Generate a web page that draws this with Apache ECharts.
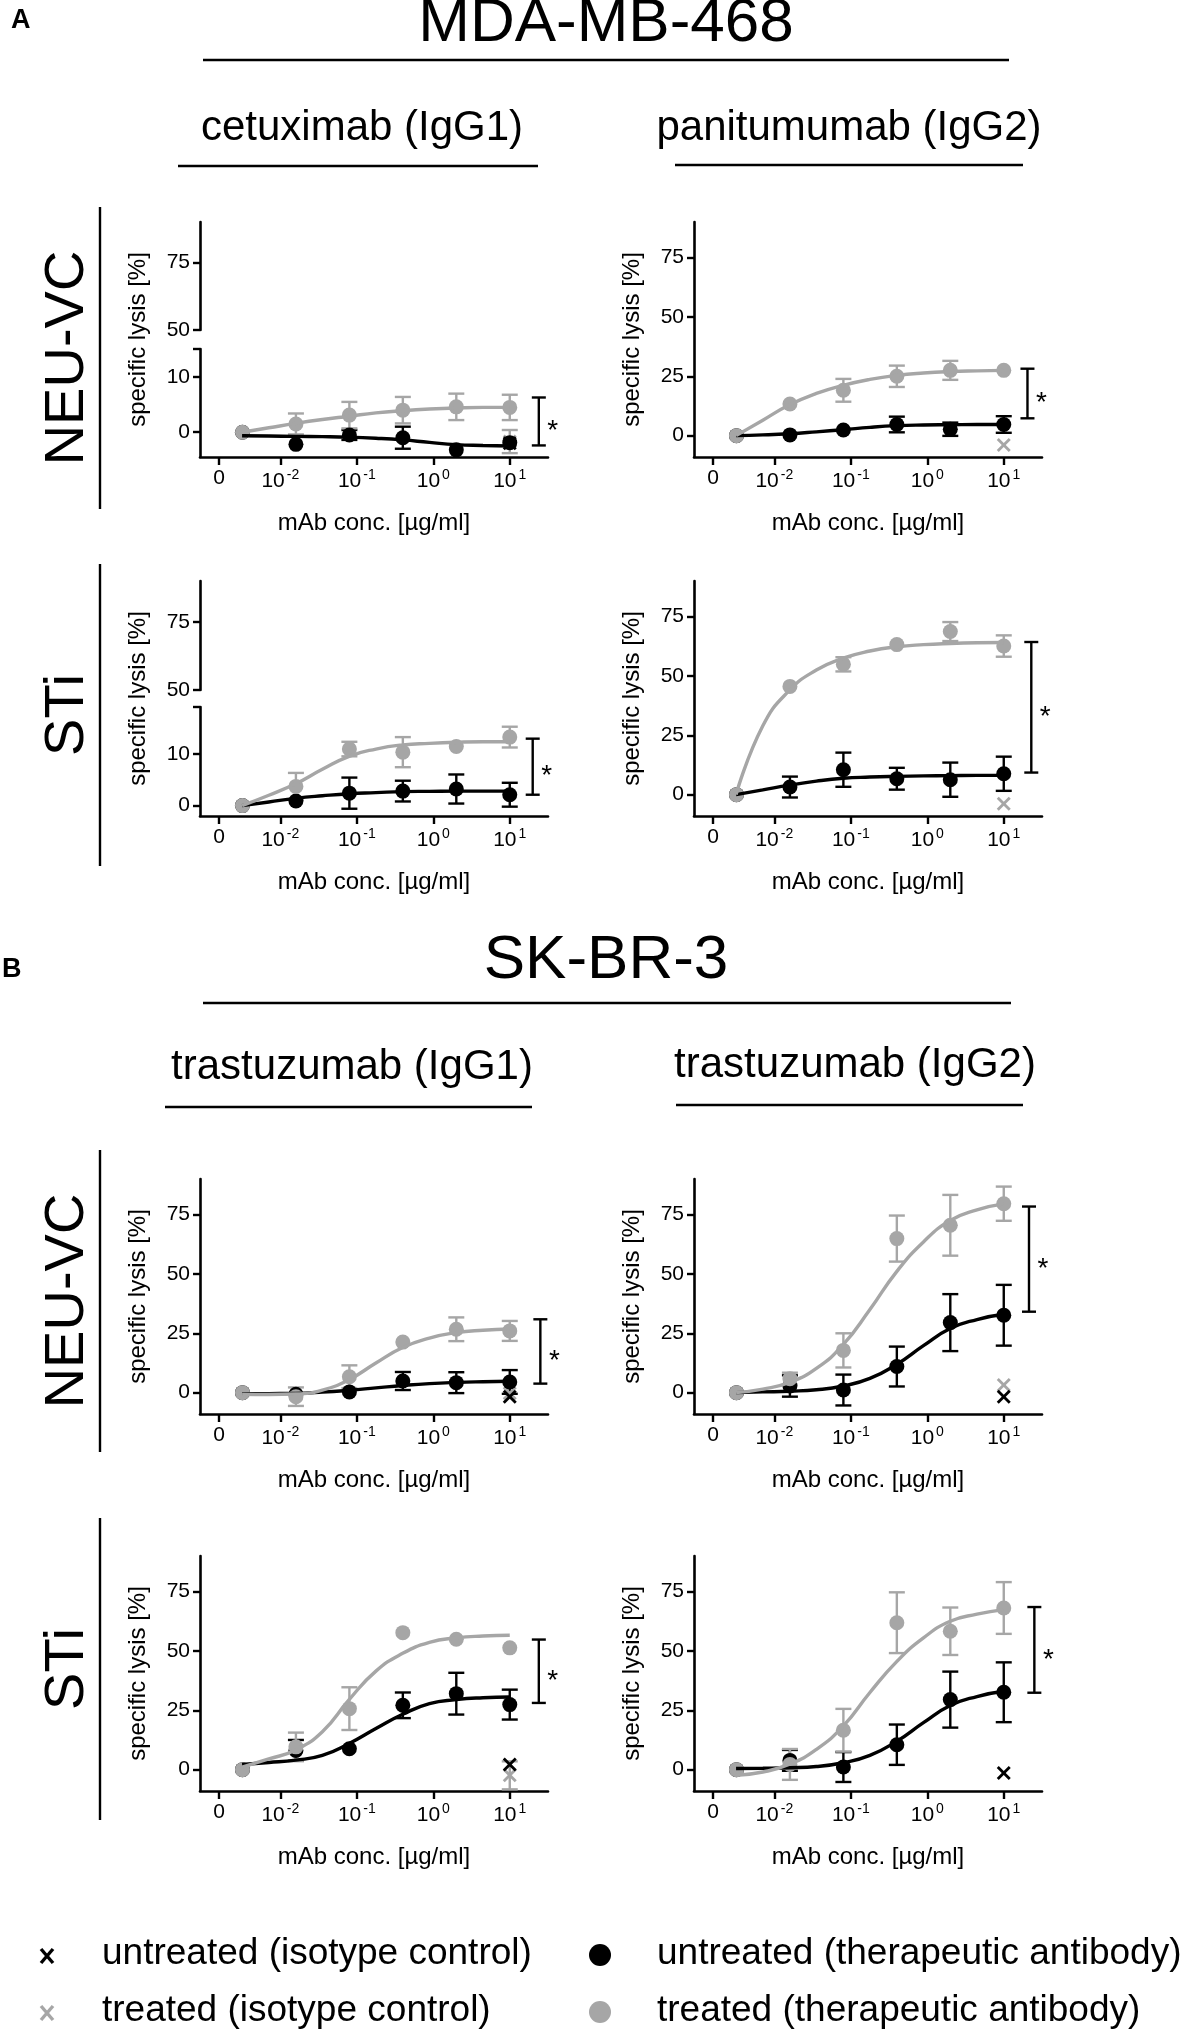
<!DOCTYPE html>
<html>
<head>
<meta charset="utf-8">
<script src="https://cdn.jsdelivr.net/npm/echarts@6/dist/echarts.min.js"></script>
<style>
html,body{margin:0;padding:0;background:#fff}
#chart{width:1183px;height:2029px}
</style>
</head>
<body>
<div id="chart"></div>
<script>
// concentrations [µg/ml]; the first one is the "0" control, drawn left of 10^-2
var CONC = [0.0032, 0.016, 0.08, 0.4, 2, 10];
var FIT_X = [-2.5, -2.15, -1.8, -1.45, -1.1, -0.75, -0.4, -0.05, 0.3, 0.65, 1.0];
var X_TICKS = [-2.8, -2, -1, 0, 1];
var Y_TICKS = [0, 25, 50, 75];
var Y_TICKS_UP = [50, 75];
var Y_TICKS_LOW = [0, 10];

// A: cetuximab (IgG1), NEU-VC
var cetNeuGray = [0, 1.5, 3.1, 4.0, 4.6, 4.5];
var cetNeuGraySd = [0, 1.9, 2.4, 2.4, 2.4, 2.3];
var cetNeuBlack = [0, -2.2, -0.5, -1.0, -3.2, -1.9];
var cetNeuBlackSd = [0, 0, 0.9, 2.0, 0, 0];
var cetNeuGrayFit = [0, 0.8, 1.6, 2.3, 2.9, 3.5, 3.9, 4.2, 4.4, 4.5, 4.5];
var cetNeuBlackFit = [-0.65, -0.7, -0.75, -0.8, -0.9, -1.1, -1.4, -1.85, -2.25, -2.4, -2.5];
var cetNeuIso = [-2.0, -1.7];      // [untreated, treated] isotype at 10 µg/ml
var cetNeuIsoSd = [0, 2.1];
var cetNeuSig = [-2.4, 6.3];

// A: panitumumab (IgG2), NEU-VC
var panNeuGray = [0, 13.3, 19.1, 25.0, 27.5, 27.5];
var panNeuGraySd = [0, 0, 4.8, 4.5, 4.0, 0];
var panNeuBlack = [0, 0.3, 2.4, 4.7, 2.7, 4.7];
var panNeuBlackSd = [0, 0, 0, 3.3, 2.8, 3.5];
var panNeuGrayFit = [0, 6.5, 13, 17.8, 21.2, 23.7, 25.4, 26.4, 27, 27.3, 27.5];
var panNeuBlackFit = [0, 0.3, 0.8, 1.6, 2.5, 3.5, 4.2, 4.5, 4.6, 4.7, 4.7];
var panNeuIso = [null, -3.9];
var panNeuIsoSd = [0, 0];
var panNeuSig = [7.3, 28.2];

// A: cetuximab (IgG1), STi
var cetStiGray = [0, 3.7, 10.9, 10.3, 11.4, 13.2];
var cetStiGraySd = [0, 2.6, 1.4, 2.9, 0, 2.0];
var cetStiBlack = [0, 0.9, 2.4, 2.8, 3.2, 2.1];
var cetStiBlackSd = [0, 0, 3.0, 2.0, 2.8, 2.3];
var cetStiGrayFit = [0, 2, 4.2, 7, 9.5, 10.9, 11.7, 12, 12.2, 12.3, 12.3];
var cetStiBlackFit = [0, 0.7, 1.4, 1.9, 2.3, 2.5, 2.7, 2.75, 2.8, 2.8, 2.8];
var cetStiIso = [null, null];
var cetStiIsoSd = [0, 0];
var cetStiSig = [2.1, 12.9];

// A: panitumumab (IgG2), STi
var panStiGray = [0, 45.6, 54.9, 63.2, 68.7, 62.6];
var panStiGraySd = [0, 0, 3, 0, 4, 4.5];
var panStiBlack = [0, 3.2, 10.5, 6.7, 6.3, 8.8];
var panStiBlackSd = [0, 4.4, 7.2, 4.6, 7.2, 7.2];
var panStiGrayFit = [0, 29, 44, 52.5, 57.5, 60.5, 62.3, 63.2, 63.7, 64, 64.1];
var panStiBlackFit = [0, 2, 4, 5.7, 6.9, 7.4, 7.7, 7.9, 8, 8.1, 8.1];
var panStiIso = [null, -3.8];
var panStiIsoSd = [0, 0];
var panStiSig = [9.3, 64.3];

// B: trastuzumab (IgG1), NEU-VC
var tg1NeuGray = [0, -1.7, 6.7, 21.3, 26.7, 26.0];
var tg1NeuGraySd = [0, 3.9, 4.8, 0, 5.0, 4.2];
var tg1NeuBlack = [0, -0.7, 0.3, 4.9, 4.2, 4.5];
var tg1NeuBlackSd = [0, 0, 0, 3.8, 4.4, 5.0];
var tg1NeuGrayFit = [-0.7, -0.8, -0.6, 1.1, 5.5, 12.5, 19, 23, 25.3, 26.3, 26.8];
var tg1NeuBlackFit = [-0.5, -0.4, -0.3, 0.2, 1.0, 2.0, 3.0, 3.8, 4.3, 4.6, 4.8];
var tg1NeuIso = [-1.7, -0.3];
var tg1NeuIsoSd = [0, 0];
var tg1NeuSig = [3.8, 30.9];

// B: trastuzumab (IgG2), NEU-VC
var tg2NeuGray = [0, 5.9, 17.8, 64.9, 70.5, 79.6];
var tg2NeuGraySd = [0, 2.5, 7.2, 9.7, 12.8, 7.2];
var tg2NeuBlack = [0, 2.8, 1.1, 11.0, 29.5, 32.6];
var tg2NeuBlackSd = [0, 4.5, 6.5, 8.4, 12.0, 12.8];
var tg2NeuGrayFit = [0, 1.5, 4.3, 10.2, 20.2, 35, 51, 63.5, 72.5, 77, 79.5];
var tg2NeuBlackFit = [0, 0.3, 0.6, 1.2, 2.8, 6, 11.9, 19.8, 27, 30.8, 33];
var tg2NeuIso = [-1.7, 3.2];
var tg2NeuIsoSd = [0, 0];
var tg2NeuSig = [34.1, 78.4];

// B: trastuzumab (IgG1), STi
var tg1StiGray = [0, 9.6, 25.7, 57.7, 54.9, 51.3];
var tg1StiGraySd = [0, 6, 9, 0, 0, 0];
var tg1StiBlack = [0, 8.1, 8.8, 27.1, 32.0, 27.4];
var tg1StiBlackSd = [0, 4.4, 0, 5.4, 8.8, 6.3];
var tg1StiGrayFit = [1.1, 4.5, 8.3, 16, 29.5, 41.5, 49, 53.6, 55.5, 56.3, 56.6];
var tg1StiBlackFit = [2.2, 3, 4, 6, 11, 17.3, 23.3, 27.8, 29.5, 30.3, 30.6];
var tg1StiIso = [2.2, -2.4];
var tg1StiIsoSd = [0, 5.9];
var tg1StiSig = [28.1, 54.8];

// B: trastuzumab (IgG2), STi
var tg2StiGray = [0, 2.2, 16.6, 61.9, 58.3, 68.1];
var tg2StiGraySd = [0, 6.5, 9, 12.8, 10, 10.9];
var tg2StiBlack = [0, 3.9, 1.1, 10.5, 29.5, 32.6];
var tg2StiBlackSd = [0, 4.4, 6.3, 8.5, 11.8, 12.6];
var tg2StiGrayFit = [-2.4, -1.0, 2.3, 8.5, 18.3, 32.5, 45.5, 55.5, 62.5, 65.5, 67.4];
var tg2StiBlackFit = [0.5, 0.6, 0.8, 1.3, 2.9, 6, 11.9, 19.8, 27, 30.8, 33];
var tg2StiIso = [-1.4, null];
var tg2StiIsoSd = [0, 0];
var tg2StiSig = [32.4, 68.5];

var GRAY = '#a6a6a6';
var FONT = '"Liberation Sans", Arial, sans-serif';
var X_MIN = -3.05, X_MAX = 1.5;
var COL_LEFT = [200, 694], PLOT_W = 348, PLOT_H = 235;
var ROW_TOP = [222, 581, 1179, 1556];

var panels = [
    {col:0, row:0, g:cetNeuGray, gs:cetNeuGraySd, b:cetNeuBlack, bs:cetNeuBlackSd, gf:cetNeuGrayFit, bf:cetNeuBlackFit,
     iso:cetNeuIso, isoSd:cetNeuIsoSd, sig:cetNeuSig, sigX:1.38, brk:{upBot:330, loTop:349, loMin:-4.5, loMax:15.1}},
    {col:1, row:0, g:panNeuGray, gs:panNeuGraySd, b:panNeuBlack, bs:panNeuBlackSd, gf:panNeuGrayFit, bf:panNeuBlackFit,
     iso:panNeuIso, isoSd:panNeuIsoSd, sig:panNeuSig, sigX:1.31},
    {col:0, row:1, g:cetStiGray, gs:cetStiGraySd, b:cetStiBlack, bs:cetStiBlackSd, gf:cetStiGrayFit, bf:cetStiBlackFit,
     iso:cetStiIso, isoSd:cetStiIsoSd, sig:cetStiSig, sigX:1.30, brk:{upBot:690, loTop:707, loMin:-2, loMax:19}},
    {col:1, row:1, g:panStiGray, gs:panStiGraySd, b:panStiBlack, bs:panStiBlackSd, gf:panStiGrayFit, bf:panStiBlackFit,
     iso:panStiIso, isoSd:panStiIsoSd, sig:panStiSig, sigX:1.36},
    {col:0, row:2, g:tg1NeuGray, gs:tg1NeuGraySd, b:tg1NeuBlack, bs:tg1NeuBlackSd, gf:tg1NeuGrayFit, bf:tg1NeuBlackFit,
     iso:tg1NeuIso, isoSd:tg1NeuIsoSd, sig:tg1NeuSig, sigX:1.40},
    {col:1, row:2, g:tg2NeuGray, gs:tg2NeuGraySd, b:tg2NeuBlack, bs:tg2NeuBlackSd, gf:tg2NeuGrayFit, bf:tg2NeuBlackFit,
     iso:tg2NeuIso, isoSd:tg2NeuIsoSd, sig:tg2NeuSig, sigX:1.33},
    {col:0, row:3, g:tg1StiGray, gs:tg1StiGraySd, b:tg1StiBlack, bs:tg1StiBlackSd, gf:tg1StiGrayFit, bf:tg1StiBlackFit,
     iso:tg1StiIso, isoSd:tg1StiIsoSd, sig:tg1StiSig, sigX:1.38},
    {col:1, row:3, g:tg2StiGray, gs:tg2StiGraySd, b:tg2StiBlack, bs:tg2StiBlackSd, gf:tg2StiGrayFit, bf:tg2StiBlackFit,
     iso:tg2StiIso, isoSd:tg2StiIsoSd, sig:tg2StiSig, sigX:1.40}
];

function xLabel(v) {
    if (v < -2.5) return '{b|0}';
    return '{b|10}{s|' + Math.round(v) + '}';
}

function xAx(gi, show) {
    return {
        gridIndex: gi, type: 'value', min: X_MIN, max: X_MAX, show: show,
        axisLine: {show: true, onZero: false, lineStyle: {color: '#000', width: 2.6}},
        axisTick: {show: true, customValues: X_TICKS, length: 8, lineStyle: {color: '#000', width: 2.4}},
        axisLabel: {
            customValues: X_TICKS, margin: 11, color: '#000', fontSize: 21, fontFamily: FONT,
            formatter: xLabel,
            rich: {
                b: {fontSize: 21, fontFamily: FONT, color: '#000'},
                s: {fontSize: 14, fontFamily: FONT, color: '#000', padding: [0, 0, 12, 2]}
            }
        },
        splitLine: {show: false}
    };
}

function yAx(gi, min, max, ticks) {
    return {
        gridIndex: gi, type: 'value', min: min, max: max,
        axisLine: {show: true, onZero: false, lineStyle: {color: '#000', width: 2.6}},
        axisTick: {show: true, customValues: ticks, length: 7, lineStyle: {color: '#000', width: 2.4}},
        axisLabel: {customValues: ticks, margin: 10, fontSize: 21, color: '#000', fontFamily: FONT},
        splitLine: {show: false}
    };
}

function errBars(color) {
    return function (params, api) {
        var sd = api.value(2);
        if (!sd) return null;
        var x = api.value(0), m = api.value(1);
        var hi = api.coord([x, m + sd]), lo = api.coord([x, m - sd]);
        var w = 8, st = {stroke: color, lineWidth: 2.4};
        return {type: 'group', children: [
            {type: 'line', shape: {x1: hi[0], y1: hi[1], x2: lo[0], y2: lo[1]}, style: st},
            {type: 'line', shape: {x1: hi[0] - w, y1: hi[1], x2: hi[0] + w, y2: hi[1]}, style: st},
            {type: 'line', shape: {x1: lo[0] - w, y1: lo[1], x2: lo[0] + w, y2: lo[1]}, style: st}
        ]};
    };
}

function isoMark(params, api) {
    var col = api.value(3) ? GRAY : '#000';
    var x = api.value(0), m = api.value(1), sd = api.value(2);
    var c = api.coord([x, m]);
    var r = 6, st = {stroke: col, lineWidth: 2.8};
    var ch = [
        {type: 'line', shape: {x1: c[0] - r, y1: c[1] - r, x2: c[0] + r, y2: c[1] + r}, style: st},
        {type: 'line', shape: {x1: c[0] - r, y1: c[1] + r, x2: c[0] + r, y2: c[1] - r}, style: st}
    ];
    if (sd) {
        var hi = api.coord([x, m + sd]), lo = api.coord([x, m - sd]);
        var est = {stroke: col, lineWidth: 2.4};
        ch.push({type: 'line', shape: {x1: hi[0], y1: hi[1], x2: lo[0], y2: lo[1]}, style: est});
        ch.push({type: 'line', shape: {x1: hi[0] - 8, y1: hi[1], x2: hi[0] + 8, y2: hi[1]}, style: est});
        ch.push({type: 'line', shape: {x1: lo[0] - 8, y1: lo[1], x2: lo[0] + 8, y2: lo[1]}, style: est});
    }
    return {type: 'group', children: ch};
}

function bracket(params, api) {
    var x = api.value(0);
    var lo = api.coord([x, api.value(1)]), hi = api.coord([x, api.value(2)]);
    var w = 7, st = {stroke: '#000', lineWidth: 2.4};
    return {type: 'group', children: [
        {type: 'line', shape: {x1: hi[0], y1: hi[1], x2: lo[0], y2: lo[1]}, style: st},
        {type: 'line', shape: {x1: hi[0] - w, y1: hi[1], x2: hi[0] + w, y2: hi[1]}, style: st},
        {type: 'line', shape: {x1: lo[0] - w, y1: lo[1], x2: lo[0] + w, y2: lo[1]}, style: st},
        {type: 'text', x: hi[0] + 14, y: (hi[1] + lo[1]) / 2 + 10,
         style: {text: '*', fontSize: 28, fontFamily: FONT, fill: '#000', align: 'center', verticalAlign: 'middle'}}
    ]};
}

function pts(vals, sd) {
    return CONC.map(function (c, i) {
        return sd ? [Math.log10(c), vals[i], sd[i]] : [Math.log10(c), vals[i]];
    });
}
function fitPts(vals) {
    return FIT_X.map(function (x, i) { return [x, vals[i]]; });
}

var grid = [], xAxis = [], yAxis = [], series = [], graphic = [];

panels.forEach(function (p) {
    var left = COL_LEFT[p.col], top = ROW_TOP[p.row], bottom = top + PLOT_H;
    if (p.brk) {
        grid.push({left: left, top: top, width: PLOT_W, height: p.brk.upBot - top});
        xAxis.push(xAx(grid.length - 1, false));
        yAxis.push(yAx(grid.length - 1, 50, 90, Y_TICKS_UP));
        grid.push({left: left, top: p.brk.loTop, width: PLOT_W, height: bottom - p.brk.loTop});
        xAxis.push(xAx(grid.length - 1, true));
        yAxis.push(yAx(grid.length - 1, p.brk.loMin, p.brk.loMax, Y_TICKS_LOW));
        // small mark where the lower axis segment starts
        graphic.push({type: 'line', shape: {x1: left - 7, y1: p.brk.loTop, x2: left, y2: p.brk.loTop},
            style: {stroke: '#000', lineWidth: 2.4}});
    } else {
        grid.push({left: left, top: top, width: PLOT_W, height: PLOT_H});
        xAxis.push(xAx(grid.length - 1, true));
        yAxis.push(yAx(grid.length - 1, -9, 90, Y_TICKS));
    }
    var gi = grid.length - 1;
    var ax = {xAxisIndex: gi, yAxisIndex: gi, silent: true};
    function s(o) { series.push(Object.assign({}, ax, o)); }

    s({type: 'custom', renderItem: errBars('#000'), data: pts(p.b, p.bs)});
    s({type: 'line', data: fitPts(p.bf), smooth: 0.5, showSymbol: false,
       lineStyle: {color: '#000', width: 3.4}});
    s({type: 'scatter', data: pts(p.b), symbolSize: 15, itemStyle: {color: '#000', opacity: 1}});
    s({type: 'custom', renderItem: errBars(GRAY), data: pts(p.g, p.gs)});
    s({type: 'line', data: fitPts(p.gf), smooth: 0.5, showSymbol: false,
       lineStyle: {color: GRAY, width: 3.4}});
    s({type: 'scatter', data: pts(p.g), symbolSize: 15, itemStyle: {color: GRAY, opacity: 1}});

    var isoData = [];
    var u10 = Math.log10(CONC[CONC.length - 1]);
    if (p.iso[1] != null) isoData.push([u10, p.iso[1], p.isoSd[1], 1]);
    if (p.iso[0] != null) isoData.push([u10, p.iso[0], p.isoSd[0], 0]);
    if (isoData.length) s({type: 'custom', renderItem: isoMark, data: isoData});
    s({type: 'custom', renderItem: bracket, data: [[p.sigX, p.sig[0], p.sig[1]]]});

    // axis titles
    graphic.push({type: 'text', x: left - 62, y: top + PLOT_H / 2, rotation: Math.PI / 2,
        style: {text: 'specific lysis [%]', fontSize: 24, fontFamily: FONT, fill: '#000', align: 'center', verticalAlign: 'middle'}});
    graphic.push({type: 'text', x: left + PLOT_W / 2, y: bottom + 66,
        style: {text: 'mAb conc. [µg/ml]', fontSize: 24, fontFamily: FONT, fill: '#000', align: 'center', verticalAlign: 'middle'}});
});

function txt(t, x, y, size, extra) {
    var g = {type: 'text', x: x, y: y,
        style: {text: t, fontSize: size, fontFamily: FONT, fill: '#000', align: 'center', verticalAlign: 'middle'}};
    if (extra) Object.assign(g.style, extra);
    return g;
}
function hline(x1, x2, y, w) {
    return {type: 'line', shape: {x1: x1, y1: y, x2: x2, y2: y}, style: {stroke: '#000', lineWidth: w || 2.4}};
}
function vline(x, y1, y2) {
    return {type: 'line', shape: {x1: x, y1: y1, x2: x, y2: y2}, style: {stroke: '#000', lineWidth: 2.4}};
}

// panel letters, cell-line titles, antibody titles
graphic.push(txt('A', 11, 21, 27, {fontWeight: 'bold', align: 'left'}));
graphic.push(txt('B', 2, 970, 27, {fontWeight: 'bold', align: 'left'}));
graphic.push(txt('MDA-MB-468', 606, 24, 62));
graphic.push(hline(203, 1009, 60, 2.6));
graphic.push(txt('SK-BR-3', 606, 961, 62));
graphic.push(hline(203, 1011, 1003, 2.6));

graphic.push(txt('cetuximab (IgG1)', 362, 128, 42));
graphic.push(hline(178, 538, 166));
graphic.push(txt('panitumumab (IgG2)', 849, 128, 42));
graphic.push(hline(675, 1023, 165));
graphic.push(txt('trastuzumab (IgG1)', 352, 1067, 42));
graphic.push(hline(165, 532, 1107));
graphic.push(txt('trastuzumab (IgG2)', 855, 1065, 42));
graphic.push(hline(676, 1023, 1105));

// row labels with their separator lines
var ROW_NAMES = ['NEU-VC', 'STi', 'NEU-VC', 'STi'];
var ROW_CENTER = [358, 715, 1301, 1669];
ROW_NAMES.forEach(function (n, i) {
    var g = txt(n, 68, ROW_CENTER[i], 56);
    g.rotation = Math.PI / 2;
    graphic.push(g);
    graphic.push(vline(100, ROW_CENTER[i] - 151, ROW_CENTER[i] + 151));
});

// legend
function cross(cx, cy, col) {
    var st = {stroke: col, lineWidth: 3.4};
    return [
        {type: 'line', shape: {x1: cx - 6, y1: cy - 7, x2: cx + 6, y2: cy + 7}, style: st},
        {type: 'line', shape: {x1: cx - 6, y1: cy + 7, x2: cx + 6, y2: cy - 7}, style: st}
    ];
}
var LEG_Y = [1954, 2011];
graphic = graphic.concat(cross(47, LEG_Y[0] + 2, '#000'), cross(47, LEG_Y[1] + 2, GRAY));
graphic.push(txt('untreated (isotype control)', 102, LEG_Y[0], 37, {align: 'left'}));
graphic.push(txt('treated (isotype control)', 102, LEG_Y[1], 37, {align: 'left'}));
graphic.push({type: 'circle', shape: {cx: 600, cy: LEG_Y[0] + 1, r: 11}, style: {fill: '#000'}});
graphic.push({type: 'circle', shape: {cx: 600, cy: LEG_Y[1] + 1, r: 11}, style: {fill: GRAY}});
graphic.push(txt('untreated (therapeutic antibody)', 657, LEG_Y[0], 37, {align: 'left'}));
graphic.push(txt('treated (therapeutic antibody)', 657, LEG_Y[1], 37, {align: 'left'}));

var chart = echarts.init(document.getElementById('chart'));
chart.setOption({
    animation: false,
    backgroundColor: '#fff',
    grid: grid,
    xAxis: xAxis,
    yAxis: yAxis,
    series: series,
    graphic: graphic
});
</script>
</body>
</html>
